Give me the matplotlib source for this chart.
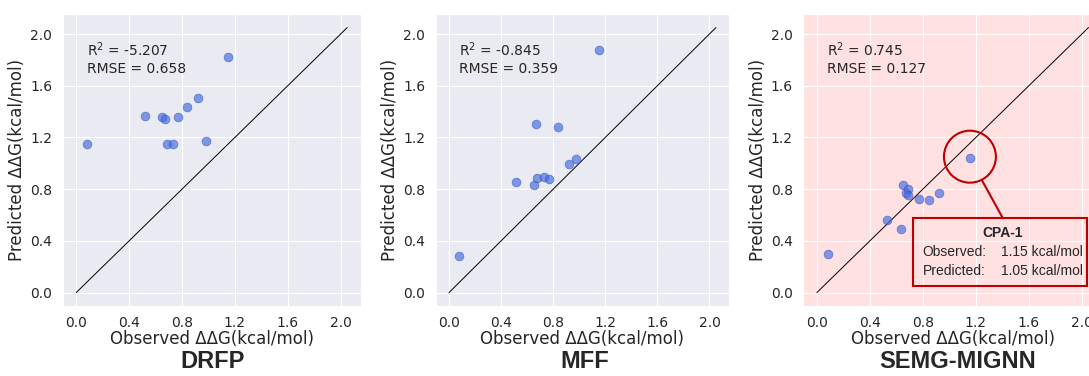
import numpy as np
import matplotlib.pyplot as plt
import seaborn as sns
from matplotlib.patches import Ellipse, Rectangle

sns.set_style('darkgrid')
plt.rcParams['font.family'] = ['DejaVu Sans']

# observed values (x), read per panel
obs_drfp = [0.078, 0.522, 0.648, 0.673, 0.683, 0.733, 0.769, 0.839, 0.920, 0.978, 1.150]
obs_mff = [0.078, 0.517, 0.650, 0.668, 0.678, 0.730, 0.768, 0.837, 0.919, 0.978, 1.152]
obs_semg = [0.083, 0.526, 0.634, 0.652, 0.674, 0.690, 0.690, 0.772, 0.843, 0.923, 1.155]

# predicted values (y)
pred_drfp = [1.151, 1.366, 1.360, 1.342, 1.151, 1.151, 1.358, 1.438, 1.503, 1.174, 1.820]
pred_mff = [0.282, 0.857, 0.834, 1.306, 0.883, 0.896, 0.881, 1.280, 0.997, 1.031, 1.874]
pred_semg = [0.298, 0.563, 0.491, 0.834, 0.767, 0.803, 0.754, 0.726, 0.713, 0.770, 1.043]

models = ['DRFP', 'MFF', 'SEMG-MIGNN']
r2 = ['-5.207', '-0.845', '0.745']
rmse = ['0.658', '0.359', '0.127']
line_end = 2.05
ticks = [0.0, 0.4, 0.8, 1.2, 1.6, 2.0]

W, H = 1089, 376
fig = plt.figure(figsize=(W / 100, H / 100), dpi=100)

# axes boxes in pixels: left, width ; plus title centre x
boxes = [(62.7, 298.1, 213), (435.7, 293.6, 584.7), (803.3, 298.8, 957.7)]
top_px, bot_px = 14.3, 305.8
faces = ['#EAEAF2', '#EAEAF2', '#FFE1E1']

obs_all = [obs_drfp, obs_mff, obs_semg]
pred_all = [pred_drfp, pred_mff, pred_semg]

axes = []
for i in range(3):
    l, w, tx = boxes[i]
    ax = fig.add_axes([l / W, 1 - bot_px / H, w / W, (bot_px - top_px) / H])
    ax.set_facecolor(faces[i])
    ax.plot([0, line_end], [0, line_end], color='black', lw=0.7, zorder=2)
    ax.scatter(obs_all[i], pred_all[i], s=40, color='royalblue', alpha=0.65,
               edgecolor='#3050C0', linewidth=0.5, zorder=3)
    ax.set_xlim(-0.1025, 2.1525)
    ax.set_ylim(-0.1025, 2.1525)
    ax.set_xticks(ticks)
    ax.set_yticks(ticks)
    ax.tick_params(labelsize=10, colors='#262626', pad=4)
    ax.set_xlabel('Observed ΔΔG(kcal/mol)', fontsize=12, color='#262626', labelpad=0)
    ax.set_ylabel('Predicted ΔΔG(kcal/mol)', fontsize=12, color='#262626', labelpad=3)
    ax.text(0.08, 0.91, f'R$^2$ = {r2[i]}\nRMSE = {rmse[i]}', transform=ax.transAxes,
            fontsize=10, color='#262626', va='top', ha='left', linespacing=1.25)
    fig.text(tx / W, 1 - 362 / H, models[i], ha='center', va='center',
             fontsize=17, fontweight='bold', family='Liberation Sans')
    axes.append(ax)

# CPA-1 callout on the last panel
ax = axes[2]
red = '#C00000'
ax.add_patch(Ellipse((1.155, 1.051), 0.392, 0.402, fill=False, edgecolor=red, lw=1.5, zorder=4))
ax.plot([1.245, 1.404], [0.870, 0.574], color=red, lw=1.5, zorder=4)
ax.add_patch(Rectangle((0.725, 0.053), 1.313, 0.521, fill=False, edgecolor=red, lw=1.5, zorder=4))
ax.text(1.401, 0.463, 'CPA-1', ha='center', va='center', fontsize=10,
        fontweight='bold', family='Liberation Sans')
ax.text(0.799, 0.311, 'Observed:', ha='left', va='center', fontsize=10, family='Liberation Sans')
ax.text(1.389, 0.311, '1.15 kcal/mol', ha='left', va='center', fontsize=10, family='Liberation Sans')
ax.text(0.799, 0.169, 'Predicted:', ha='left', va='center', fontsize=10, family='Liberation Sans')
ax.text(1.389, 0.169, '1.05 kcal/mol', ha='left', va='center', fontsize=10, family='Liberation Sans')

fig.savefig('out.png', dpi=100)
